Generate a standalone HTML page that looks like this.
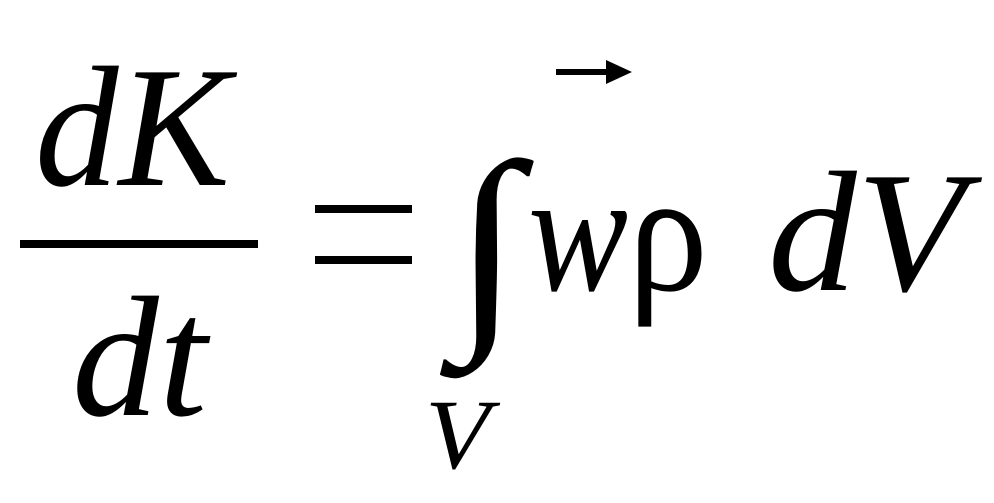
<!DOCTYPE html>
<html><head><meta charset="utf-8"><style>html,body{margin:0;padding:0;background:#fff;width:994px;height:503px;overflow:hidden}</style></head>
<body>
<svg width="994" height="503" viewBox="0 0 994 503" xmlns="http://www.w3.org/2000/svg" font-family="Liberation Serif, serif" fill="#000">
<text x="35" y="185" font-size="172" font-style="italic" textLength="195" lengthAdjust="spacingAndGlyphs">dK</text>
<rect x="20" y="240" width="238" height="8"/>
<text x="72" y="415" font-size="172" font-style="italic" textLength="135" lengthAdjust="spacingAndGlyphs">dt</text>
<rect x="315" y="205" width="97" height="8"/>
<rect x="315" y="256" width="97" height="8"/>
<text x="453" y="318" font-size="225" textLength="68" lengthAdjust="spacingAndGlyphs">∫</text>
<text x="528" y="290" font-size="172" font-style="italic" textLength="100" lengthAdjust="spacingAndGlyphs">w</text>
<text x="628" y="290" font-size="172" textLength="80" lengthAdjust="spacingAndGlyphs">ρ</text>
<text x="768" y="290" font-size="172" font-style="italic" textLength="197" lengthAdjust="spacingAndGlyphs">dV</text>
<rect x="556" y="69" width="55" height="6"/>
<polygon points="606,60 632,72 606,84"/>
<text x="425" y="468" font-size="100" font-style="italic" textLength="65" lengthAdjust="spacingAndGlyphs">V</text>
</svg>
</body></html>
